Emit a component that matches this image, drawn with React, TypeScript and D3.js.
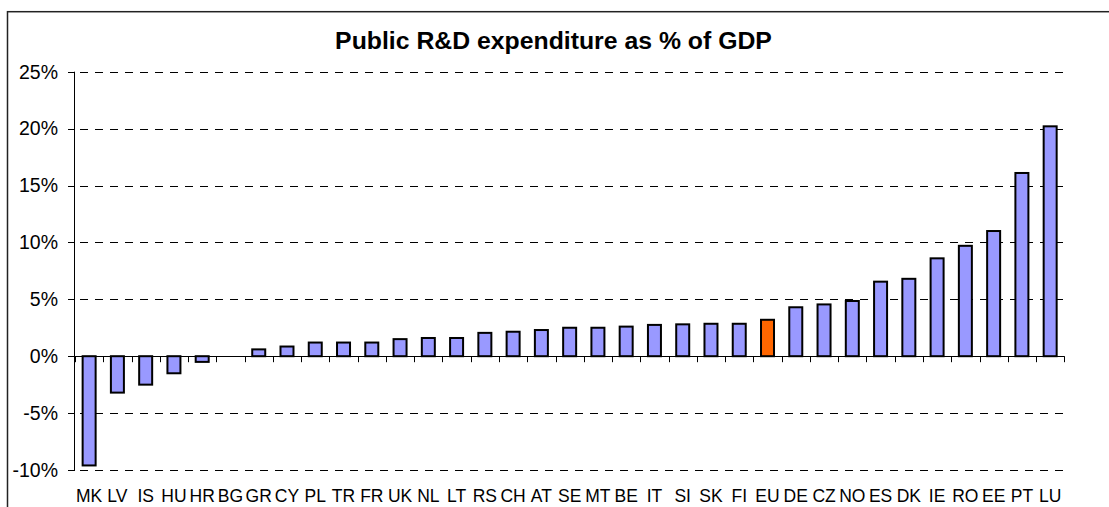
import React from "react";
import * as d3 from "d3";

const categories = ["MK","LV","IS","HU","HR","BG","GR","CY","PL","TR","FR","UK","NL","LT","RS","CH","AT","SE","MT","BE","IT","SI","SK","FI","EU","DE","CZ","NO","ES","DK","IE","RO","EE","PT","LU"];
const values = [-9.6,-3.2,-2.5,-1.5,-0.5,0,0.6,0.85,1.2,1.2,1.2,1.5,1.6,1.6,2.05,2.15,2.3,2.5,2.5,2.6,2.75,2.8,2.85,2.85,3.2,4.3,4.55,4.85,6.55,6.8,8.6,9.7,11.0,16.1,20.2];
const highlight = "EU";
const yTicks = [-10,-5,0,5,10,15,20,25];
const title = "Public R&D expenditure as % of GDP";

const W = 1109, H = 507;
const left = 75, right = 1064.3, top = 71.7, bottom = 470;

export default function App() {
  const x = d3.scaleBand<string>().domain(categories).range([left, right]).paddingInner(0).paddingOuter(0);
  const y = d3.scaleLinear().domain([-10, 25]).range([bottom, top]);
  const bw = x.bandwidth();
  const barW = 13;
  const font = "'Liberation Sans', Arial, sans-serif";
  return (
    <svg width={W} height={H} style={{ position: "absolute", left: 0, top: 0, background: "#fff" }} fontFamily={font}>
      <rect x={7.5} y={11.7} width={W + 20} height={H + 20} fill="#fff" stroke="#222" strokeWidth={1.5} />
      <text x={553.5} y={49} textAnchor="middle" fontSize={24.8} fontWeight="bold">{title}</text>
      {yTicks.filter(t => t !== 0).map(t => (
        <line key={"g" + t} x1={left} x2={right} y1={Math.round(y(t)) + 0.5} y2={Math.round(y(t)) + 0.5} stroke="#000" strokeWidth={1} strokeDasharray="8,7" strokeDashoffset={10} />
      ))}
      {yTicks.map(t => (
        <g key={"t" + t}>
          <line x1={68} x2={left} y1={Math.round(y(t)) + 0.5} y2={Math.round(y(t)) + 0.5} stroke="#000" strokeWidth={1} />
          <text x={58} y={y(t)} dy="0.35em" textAnchor="end" fontSize={19.5}>{t + "%"}</text>
        </g>
      ))}
      <line x1={left - 0.5} x2={left - 0.5} y1={y(25)} y2={y(-10)} stroke="#000" strokeWidth={1} />
      {categories.map((c, i) => {
        const v = values[i];
        const y0 = y(0), y1 = y(v);
        return (
          <rect key={c} x={(x(c) as number) + bw / 2 - barW / 2} y={Math.min(y0, y1)} width={barW} height={Math.abs(y1 - y0)}
            fill={c === highlight ? "#FF6600" : "#9999FF"} stroke="#000" strokeWidth={2} />
        );
      })}
      <line x1={left} x2={right} y1={Math.round(y(0)) + 0.5} y2={Math.round(y(0)) + 0.5} stroke="#000" strokeWidth={1} />
      {categories.map(c => (
        <line key={"xt" + c} x1={Math.round(x(c) as number) + 0.5} x2={Math.round(x(c) as number) + 0.5} y1={y(0)} y2={y(0) + 6} stroke="#000" strokeWidth={1} />
      ))}
      <line x1={Math.round(right) + 0.5} x2={Math.round(right) + 0.5} y1={y(0)} y2={y(0) + 6} stroke="#000" strokeWidth={1} />
      {categories.map(c => (
        <text key={"xl" + c} x={(x(c) as number) + bw / 2} y={501.7} textAnchor="middle" fontSize={17.5}>{c}</text>
      ))}
    </svg>
  );
}
